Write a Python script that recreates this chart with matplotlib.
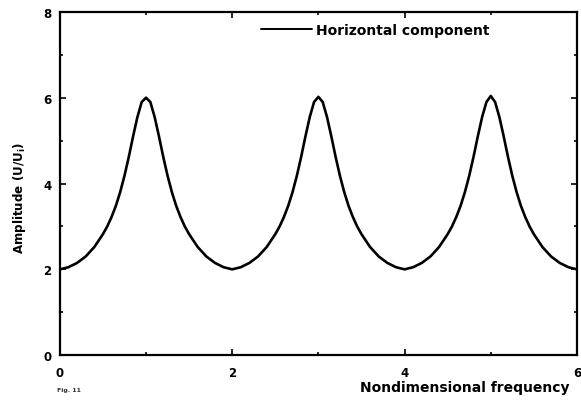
import matplotlib
matplotlib.use("Agg")
import matplotlib.pyplot as plt
from matplotlib.ticker import MultipleLocator

plt.rcParams['font.family'] = ['DejaVu Sans']
plt.rcParams['font.weight'] = 'bold'

# Nondimensional frequency samples
frequency = [
    0.00, 0.10, 0.20, 0.30, 0.40, 0.50, 0.55, 0.60, 0.65, 0.70, 0.75, 0.80, 0.85, 0.90, 0.95,
    1.00, 1.05, 1.10, 1.15, 1.20, 1.25, 1.30, 1.35, 1.40, 1.45, 1.50, 1.60, 1.70, 1.80, 1.90,
    2.00, 2.10, 2.20, 2.30, 2.40, 2.50, 2.55, 2.60, 2.65, 2.70, 2.75, 2.80, 2.85, 2.90, 2.95,
    3.00, 3.05, 3.10, 3.15, 3.20, 3.25, 3.30, 3.35, 3.40, 3.45, 3.50, 3.60, 3.70, 3.80, 3.90,
    4.00, 4.10, 4.20, 4.30, 4.40, 4.50, 4.55, 4.60, 4.65, 4.70, 4.75, 4.80, 4.85, 4.90, 4.95,
    5.00, 5.05, 5.10, 5.15, 5.20, 5.25, 5.30, 5.35, 5.40, 5.45, 5.50, 5.60, 5.70, 5.80, 5.90,
    6.00,
]

# Horizontal amplitude ratio U/Ui
horizontal = [
    2.00, 2.05, 2.15, 2.30, 2.52, 2.82, 3.00, 3.22, 3.48, 3.80, 4.18, 4.62, 5.10, 5.55, 5.90,
    6.00, 5.90, 5.55, 5.10, 4.62, 4.18, 3.80, 3.48, 3.22, 3.00, 2.82, 2.52, 2.30, 2.15, 2.05,
    2.00, 2.05, 2.15, 2.30, 2.52, 2.82, 3.00, 3.22, 3.48, 3.80, 4.18, 4.62, 5.10, 5.55, 5.90,
    6.02, 5.90, 5.55, 5.10, 4.62, 4.18, 3.80, 3.48, 3.22, 3.00, 2.82, 2.52, 2.30, 2.15, 2.05,
    2.00, 2.05, 2.15, 2.30, 2.52, 2.82, 3.00, 3.22, 3.48, 3.80, 4.18, 4.62, 5.10, 5.55, 5.90,
    6.04, 5.90, 5.55, 5.10, 4.62, 4.18, 3.80, 3.48, 3.22, 3.00, 2.82, 2.52, 2.30, 2.15, 2.05,
    2.00,
]

x_ticks = [0, 2, 4, 6]
y_ticks = [0, 2, 4, 6, 8]

fig = plt.figure(figsize=(5.81, 4.02), dpi=100)
ax = fig.add_axes([0.103, 0.114, 0.890, 0.854])

ax.plot(frequency, horizontal, color='black', lw=1.9, solid_capstyle='round',
        solid_joinstyle='round', label='Horizontal component')

ax.set_xlim(0, 6)
ax.set_ylim(0, 8)
ax.set_xticks(x_ticks)
ax.set_yticks(y_ticks)
ax.xaxis.set_minor_locator(MultipleLocator(1))
ax.yaxis.set_minor_locator(MultipleLocator(1))
ax.tick_params(which='both', direction='in', top=True, right=True, width=1.2)
ax.tick_params(which='major', length=4, labelsize=8.5)
ax.tick_params(axis='x', which='major', pad=8)
ax.tick_params(axis='y', which='major', pad=6)
ax.tick_params(which='minor', length=2.5)
for lab in ax.get_xticklabels() + ax.get_yticklabels():
    lab.set_fontweight('bold')
for sp in ax.spines.values():
    sp.set_linewidth(1.6)

ax.set_ylabel('Amplitude (U/U$_\\mathbf{i}$)', fontsize=8.6, fontweight='bold')
ax.yaxis.set_label_coords(-0.062, 0.46)
fig.text(360 / 581, 1 - 388 / 402, 'Nondimensional frequency', fontsize=10,
         fontweight='bold', ha='left', va='center')
fig.text(57 / 581, 1 - 391 / 402, 'Fig. 11', fontsize=4.5, ha='left', va='center',
         color='#333333')

leg = ax.legend(loc='upper left', bbox_to_anchor=(0.37, 0.997), frameon=False,
                handlelength=3.7, handletextpad=0.25, borderaxespad=0.3,
                prop={'size': 10, 'weight': 'bold'})
for line in leg.get_lines():
    line.set_linewidth(1.4)

fig.savefig('out.png', dpi=100)
